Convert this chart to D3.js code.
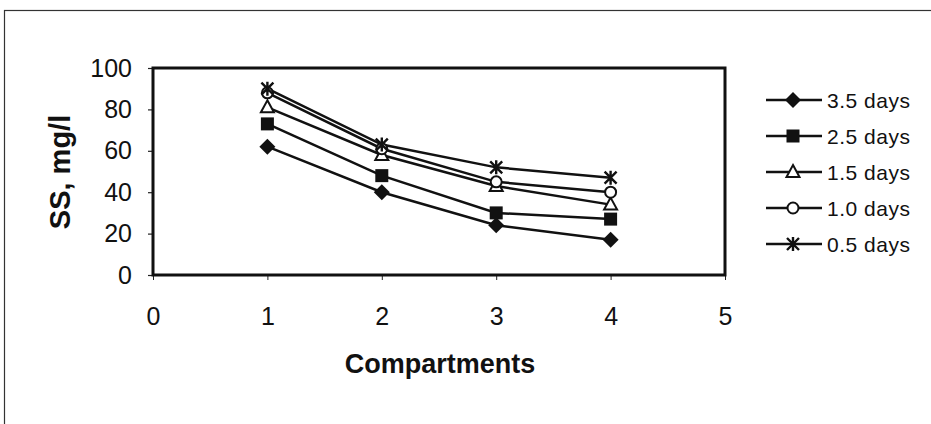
<!DOCTYPE html>
<html>
<head>
<meta charset="utf-8">
<script src="https://cdn.jsdelivr.net/npm/d3@7"></script>
<style>
  body { margin: 0; background: #fff; }
  text { font-family: "Liberation Sans", Arial, sans-serif; fill: #111; }
</style>
</head>
<body>
<svg width="931" height="424"></svg>
<script>
// compartments on the x axis
const compartments = [1, 2, 3, 4];

// SS, mg/l per retention time
const days35 = [62, 40, 24, 17];
const days25 = [73, 48, 30, 27];
const days15 = [81, 58, 43, 34];
const days10 = [88, 61, 45, 40];
const days05 = [90, 63, 52, 47];

const seriesNames = ["3.5 days", "2.5 days", "1.5 days", "1.0 days", "0.5 days"];
const seriesValues = [days35, days25, days15, days10, days05];
const symbols = ["diamond", "square", "triangle", "circle", "star"];

const xTicks = [0, 1, 2, 3, 4, 5];
const yTicks = [0, 20, 40, 60, 80, 100];

const svg = d3.select("svg");

// outer chart border
svg.append("rect")
  .attr("x", 4.5).attr("y", 10.5)
  .attr("width", 940).attr("height", 430)
  .attr("fill", "none")
  .attr("stroke", "#333")
  .attr("stroke-width", 1.2);

const plotLeft = 153, plotRight = 725, plotTop = 68, plotBottom = 275;

const x = d3.scaleLinear().domain([0, 5]).range([plotLeft, plotRight]);
const y = d3.scaleLinear().domain([0, 100]).range([plotBottom, plotTop]);

// y axis
const yAxis = svg.append("g")
  .attr("transform", `translate(${plotLeft},0)`)
  .call(d3.axisLeft(y).tickValues(yTicks).tickFormat(d3.format("d")).tickSize(5).tickPadding(16));
yAxis.select(".domain").remove();
yAxis.selectAll("line").attr("stroke", "#222").attr("stroke-width", 1.2);
yAxis.selectAll("text")
  .style("font-family", "Liberation Sans, Arial, sans-serif")
  .style("font-size", "25px")
  .attr("fill", "#111");

// x axis
const xAxis = svg.append("g")
  .attr("transform", `translate(0,${plotBottom})`)
  .call(d3.axisBottom(x).tickValues(xTicks).tickFormat(d3.format("d")).tickSize(5).tickPadding(27));
xAxis.select(".domain").remove();
xAxis.selectAll("line").attr("stroke", "#222").attr("stroke-width", 1);
xAxis.selectAll("text")
  .style("font-family", "Liberation Sans, Arial, sans-serif")
  .style("font-size", "25px")
  .attr("fill", "#111");

// plot frame
svg.append("rect")
  .attr("x", plotLeft).attr("y", plotTop)
  .attr("width", plotRight - plotLeft).attr("height", plotBottom - plotTop)
  .attr("fill", "none")
  .attr("stroke", "#111")
  .attr("stroke-width", 3);

// axis titles
svg.append("text")
  .attr("x", 440).attr("y", 373)
  .attr("text-anchor", "middle")
  .style("font-size", "27px")
  .style("font-weight", "bold")
  .text("Compartments");

svg.append("text")
  .attr("transform", "translate(70,172) rotate(-90)")
  .attr("text-anchor", "middle")
  .style("font-size", "29px")
  .style("font-weight", "bold")
  .text("SS, mg/l");

// marker drawing
function drawMarker(g, type, cx, cy) {
  if (type === "diamond") {
    g.append("path")
      .attr("d", `M${cx},${cy - 8}L${cx + 8},${cy}L${cx},${cy + 8}L${cx - 8},${cy}Z`)
      .attr("fill", "#111");
  } else if (type === "square") {
    g.append("rect")
      .attr("x", cx - 6.5).attr("y", cy - 6.5)
      .attr("width", 13).attr("height", 13)
      .attr("fill", "#111");
  } else if (type === "triangle") {
    g.append("path")
      .attr("d", `M${cx},${cy - 7}L${cx + 6.5},${cy + 5}L${cx - 6.5},${cy + 5}Z`)
      .attr("fill", "#fff").attr("stroke", "#111").attr("stroke-width", 2);
  } else if (type === "circle") {
    g.append("circle")
      .attr("cx", cx).attr("cy", cy).attr("r", 5.5)
      .attr("fill", "#fff").attr("stroke", "#111").attr("stroke-width", 2);
  } else {
    const s = 6;
    g.append("path")
      .attr("d", `M${cx - s},${cy - s}L${cx + s},${cy + s}M${cx - s},${cy + s}L${cx + s},${cy - s}M${cx},${cy - s - 1}L${cx},${cy + s + 1}`)
      .attr("stroke", "#111").attr("stroke-width", 2.4);
  }
}

const line = d3.line()
  .x((d, i) => x(compartments[i]))
  .y(d => y(d));

const plot = svg.append("g");
seriesValues.forEach((vals, si) => {
  plot.append("path")
    .datum(vals)
    .attr("d", line)
    .attr("fill", "none")
    .attr("stroke", "#111")
    .attr("stroke-width", 2.5);
});
seriesValues.forEach((vals, si) => {
  vals.forEach((v, i) => drawMarker(plot, symbols[si], x(compartments[i]), y(v)));
});

// legend
const legend = svg.append("g").attr("transform", "translate(766,100)");
seriesNames.forEach((name, i) => {
  const row = legend.append("g").attr("transform", `translate(0,${i * 36})`);
  row.append("line")
    .attr("x1", 0).attr("x2", 56)
    .attr("y1", 0).attr("y2", 0)
    .attr("stroke", "#111").attr("stroke-width", 2.5);
  drawMarker(row, symbols[i], 27, 0);
  row.append("text")
    .attr("x", 61).attr("y", 7.5)
    .style("font-size", "21px")
    .style("letter-spacing", "0.5px")
    .text(name);
});
</script>
</body>
</html>
